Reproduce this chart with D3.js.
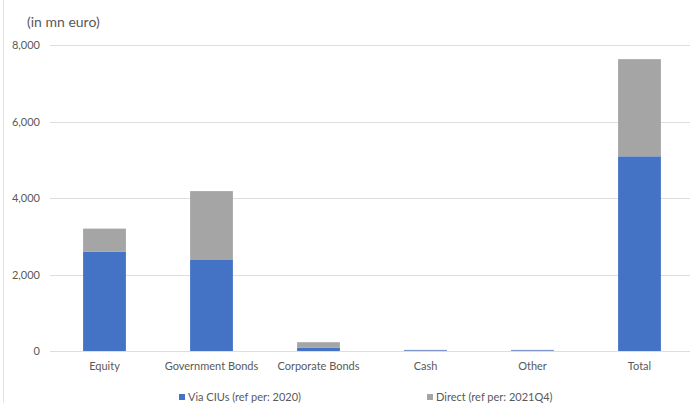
<!DOCTYPE html>
<html><head><meta charset="utf-8">
<script src="https://cdn.jsdelivr.net/npm/d3@7"></script>
<style>body{margin:0;background:#fff;}svg{display:block;font-family:Lato,"Open Sans",sans-serif;}</style>
</head><body>
<svg id="c" width="690" height="403"></svg>
<script>
const categories = ["Equity","Government Bonds","Corporate Bonds","Cash","Other","Total"];
const viaCIUs = [2600, 2380, 90, 20, 20, 5090];
const direct = [600, 1800, 140, 10, 10, 2540];
const seriesNames = ["Via CIUs (ref per: 2020)", "Direct (ref per: 2021Q4)"];
const yTicks = [0, 2000, 4000, 6000, 8000];
const colors = ["#4472C4", "#A5A5A5"];

const svg = d3.select("#c");
const x = d3.scaleBand().domain(categories).range([51, 693]).paddingInner(0.6).paddingOuter(0.3);
const y = d3.scaleLinear().domain([0, 8000]).range([351, 45]);

// left border line
svg.append("line").attr("x1",3.5).attr("x2",3.5).attr("y1",0).attr("y2",403).attr("stroke","#e4e4e4");

// gridlines
svg.append("g").selectAll("line").data(yTicks).join("line")
  .attr("x1",50).attr("x2",690).attr("y1",d=>Math.round(y(d))+0.5).attr("y2",d=>Math.round(y(d))+0.5)
  .attr("stroke","#dedede").attr("stroke-width",1);

// y axis labels
const yAxis = d3.axisLeft(y).tickValues(yTicks).tickFormat(d3.format(",")).tickSize(0).tickPadding(0);
const ga = svg.append("g").attr("transform","translate(40,0)").call(yAxis);
ga.select(".domain").remove();
ga.selectAll("text").attr("fill","#595959").style("font-size","11px").style("font-family","Lato,sans-serif");

// stacked bars
const data = categories.map((c,i)=>({cat:c, via:viaCIUs[i], direct:direct[i]}));
const stack = d3.stack().keys(["via","direct"])(data);
svg.append("g").selectAll("g").data(stack).join("g").attr("fill",(d,i)=>colors[i])
  .selectAll("rect").data(d=>d).join("rect")
  .attr("x",d=>x(d.data.cat)).attr("width",x.bandwidth())
  .attr("y",d=>y(d[1])).attr("height",d=>y(d[0])-y(d[1]));

// x axis labels
const xAxis = d3.axisBottom(x).tickSize(0).tickPadding(0);
const gx = svg.append("g").attr("transform","translate(0,362)").call(xAxis);
gx.select(".domain").remove();
gx.selectAll("text").attr("fill","#595959").style("font-size","11px").style("font-family","Lato,sans-serif");

// title
svg.append("text").attr("x",27).attr("y",27).text("(in mn euro)")
  .attr("fill","#595959").style("font-size","14px");

// legend
const legX = [179, 427];
const lg = svg.append("g").selectAll("g").data(seriesNames).join("g")
  .attr("transform",(d,i)=>`translate(${legX[i]},394)`);
lg.append("rect").attr("width",6).attr("height",6).attr("y",0).attr("fill",(d,i)=>colors[i]);
lg.append("text").attr("x",9).attr("y",7).text(d=>d).attr("fill","#595959").style("font-size","11px");
</script>
</body></html>
